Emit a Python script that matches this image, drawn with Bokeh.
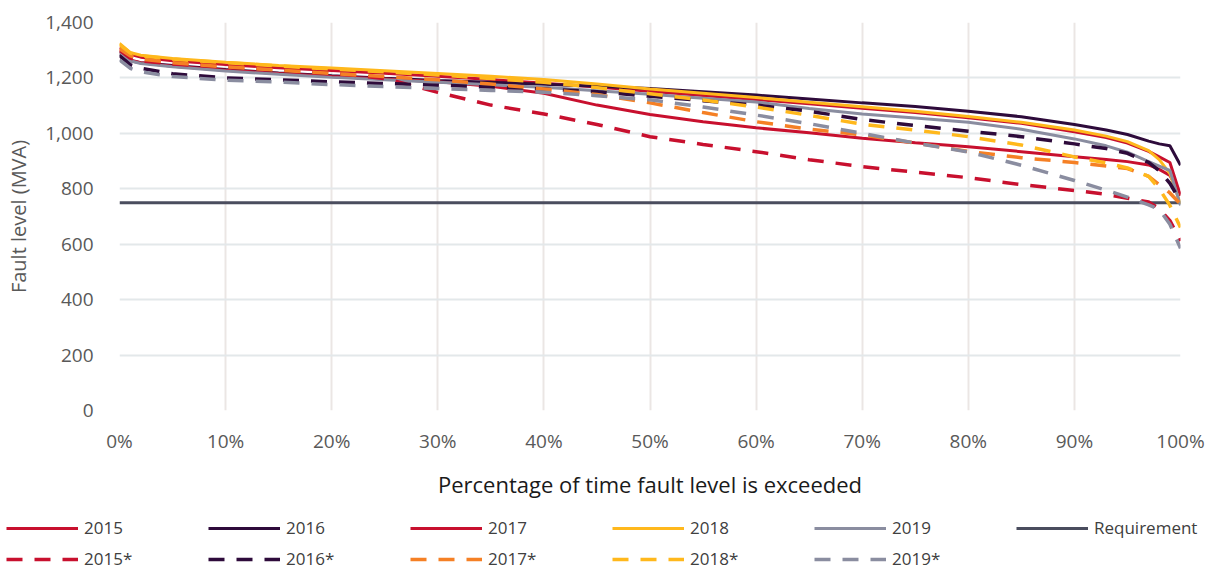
from bokeh.plotting import figure
from bokeh.layouts import column
from bokeh.models import Legend, LegendItem, NumeralTickFormatter, PrintfTickFormatter, FixedTicker, Range1d
from bokeh.embed import file_html
from bokeh.resources import INLINE

# Percentage of time fault level is exceeded
pct = [0, 1, 2, 5, 10, 15, 20, 25, 30, 35, 40, 45, 50, 55, 60, 65, 70, 75, 80, 85, 90, 93, 95, 97, 98, 99, 100]

y2015 = [1310, 1285, 1275, 1262, 1248, 1237, 1227, 1217, 1206, 1194, 1181, 1167, 1152, 1137, 1122, 1107, 1091, 1075, 1056, 1036, 1006, 985, 965, 935, 915, 895, 775]
y2016 = [1285, 1262, 1255, 1245, 1230, 1218, 1208, 1199, 1191, 1184, 1177, 1170, 1162, 1150, 1138, 1124, 1110, 1097, 1080, 1060, 1032, 1012, 996, 972, 962, 955, 885]
y2017 = [1295, 1265, 1255, 1242, 1228, 1216, 1205, 1196, 1186, 1170, 1145, 1102, 1068, 1042, 1020, 1002, 982, 966, 952, 934, 916, 906, 898, 886, 870, 848, 780]
y2018 = [1325, 1292, 1282, 1270, 1257, 1245, 1236, 1226, 1216, 1206, 1194, 1178, 1160, 1145, 1129, 1112, 1096, 1080, 1061, 1040, 1012, 990, 970, 938, 905, 855, 745]
y2019 = [1295, 1262, 1252, 1240, 1225, 1213, 1202, 1193, 1184, 1175, 1166, 1154, 1141, 1127, 1113, 1090, 1070, 1055, 1040, 1015, 980, 955, 932, 898, 882, 866, 740]

y2015s = [1300, 1272, 1262, 1250, 1240, 1230, 1218, 1198, 1148, 1102, 1070, 1032, 988, 960, 934, 905, 880, 860, 840, 815, 794, 780, 766, 752, 728, 685, 612]
y2016s = [1280, 1248, 1235, 1215, 1200, 1193, 1186, 1180, 1174, 1167, 1160, 1150, 1134, 1118, 1102, 1080, 1050, 1028, 1008, 988, 962, 945, 928, 895, 865, 820, 755]
y2017s = [1305, 1280, 1268, 1255, 1240, 1228, 1216, 1205, 1193, 1178, 1160, 1140, 1110, 1075, 1042, 1015, 995, 965, 935, 912, 895, 882, 873, 845, 815, 785, 745]
y2018s = [1320, 1290, 1280, 1268, 1255, 1243, 1232, 1222, 1211, 1198, 1184, 1165, 1143, 1120, 1095, 1065, 1033, 1012, 988, 958, 915, 893, 875, 845, 800, 740, 660]
y2019s = [1265, 1235, 1222, 1205, 1192, 1185, 1176, 1169, 1162, 1155, 1148, 1136, 1121, 1095, 1066, 1035, 1000, 965, 933, 885, 830, 795, 770, 742, 725, 672, 585]

req_x = [0, 100]
req_y = [750, 750]

x_ticks = [0, 10, 20, 30, 40, 50, 60, 70, 80, 90, 100]
y_ticks = [0, 200, 400, 600, 800, 1000, 1200, 1400]

labels = ["2015", "2016", "2017", "2018", "2019", "Requirement",
          "2015*", "2016*", "2017*", "2018*", "2019*"]

RED = "#c8102e"
PURPLE = "#2e0b3b"
ORANGE = "#f58025"
YELLOW = "#ffb81c"
GREY = "#8a8da0"
SLATE = "#4a4d5e"
FONT = "Open Sans"
DASH = "16 12"

series = [
    (pct, y2015, RED, "solid"),
    (pct, y2016, PURPLE, "solid"),
    (pct, y2017, RED, "solid"),
    (pct, y2018, YELLOW, "solid"),
    (pct, y2019, GREY, "solid"),
    (req_x, req_y, SLATE, "solid"),
    (pct, y2015s, RED, DASH),
    (pct, y2016s, PURPLE, DASH),
    (pct, y2017s, ORANGE, DASH),
    (pct, y2018s, YELLOW, DASH),
    (pct, y2019s, GREY, DASH),
]

p = figure(width=1215, height=512, output_backend="svg", toolbar_location=None,
           x_range=Range1d(0, 100), y_range=Range1d(0, 1400),
           min_border_left=119, min_border_right=35, min_border_top=22, min_border_bottom=102)
p.outline_line_color = None
p.frame_align = False

p.xgrid.grid_line_color = "#ebe6e4"
p.xgrid.grid_line_width = 2
p.ygrid.grid_line_color = "#e3e8ea"
p.ygrid.grid_line_width = 2

p.xaxis.ticker = FixedTicker(ticks=x_ticks)
p.yaxis.ticker = FixedTicker(ticks=y_ticks)
p.xaxis.formatter = PrintfTickFormatter(format="%d%%")
p.yaxis.formatter = NumeralTickFormatter(format="0,0")
for ax in (p.xaxis, p.yaxis):
    ax.axis_line_color = None
    ax.major_tick_line_color = None
    ax.minor_tick_line_color = None
    ax.major_tick_out = 0
    ax.major_tick_in = 0
    ax.major_label_text_font = FONT
    ax.major_label_text_font_size = "19px"
    ax.major_label_text_color = "#595959"
    ax.axis_label_text_font = FONT
    ax.axis_label_text_font_style = "normal"

p.xaxis.axis_label = "Percentage of time fault level is exceeded"
p.xaxis.axis_label_text_font_size = "22px"
p.xaxis.axis_label_text_color = "#1a1a1a"
p.xaxis.major_label_standoff = 17
p.xaxis.axis_label_standoff = 12

p.yaxis.axis_label = "Fault level (MVA)"
p.yaxis.axis_label_text_font_size = "20px"
p.yaxis.axis_label_text_color = "#595959"
p.yaxis.major_label_standoff = 26
p.yaxis.axis_label_standoff = 10

# main chart lines: requirement first, then solids, then dashed on top
order = [5, 0, 1, 2, 3, 4, 6, 7, 8, 9, 10]
for i in order:
    xs, ys, col, dash = series[i]
    lw = 3 if dash == "solid" else 3.5
    p.line(xs, ys, line_color=col, line_width=lw, line_dash=dash)

# legend strip below the chart (same series, hidden; legend only)
lg = figure(width=1215, height=58, output_backend="svg", toolbar_location=None,
            x_range=Range1d(0, 100), y_range=Range1d(0, 1400),
            min_border_left=0, min_border_right=0, min_border_top=0, min_border_bottom=0,
            x_axis_type=None, y_axis_type=None)
lg.outline_line_color = None
lg.frame_align = False
lg.xgrid.visible = False
lg.ygrid.visible = False

items = []
for lab, (xs, ys, col, dash) in zip(labels, series):
    lw = 3 if dash == "solid" else 3.5
    r = lg.line(xs, ys, line_color=col, line_width=lw, line_dash=dash, visible=False)
    items.append(LegendItem(label=lab, renderers=[r]))

legend = Legend(items=items, orientation="horizontal", ncols=6, location=(6, 0),
                glyph_width=72, glyph_height=22, label_height=22, label_standoff=6,
                label_width=116, spacing=8, padding=0, margin=0,
                border_line_color=None, background_fill_alpha=0, inactive_fill_alpha=0,
                label_text_font=FONT, label_text_font_size="17px", label_text_color="#404040")
lg.add_layout(legend, "center")

layout = column(p, lg, spacing=0)
open("out.html", "w").write(file_html(layout, INLINE))
